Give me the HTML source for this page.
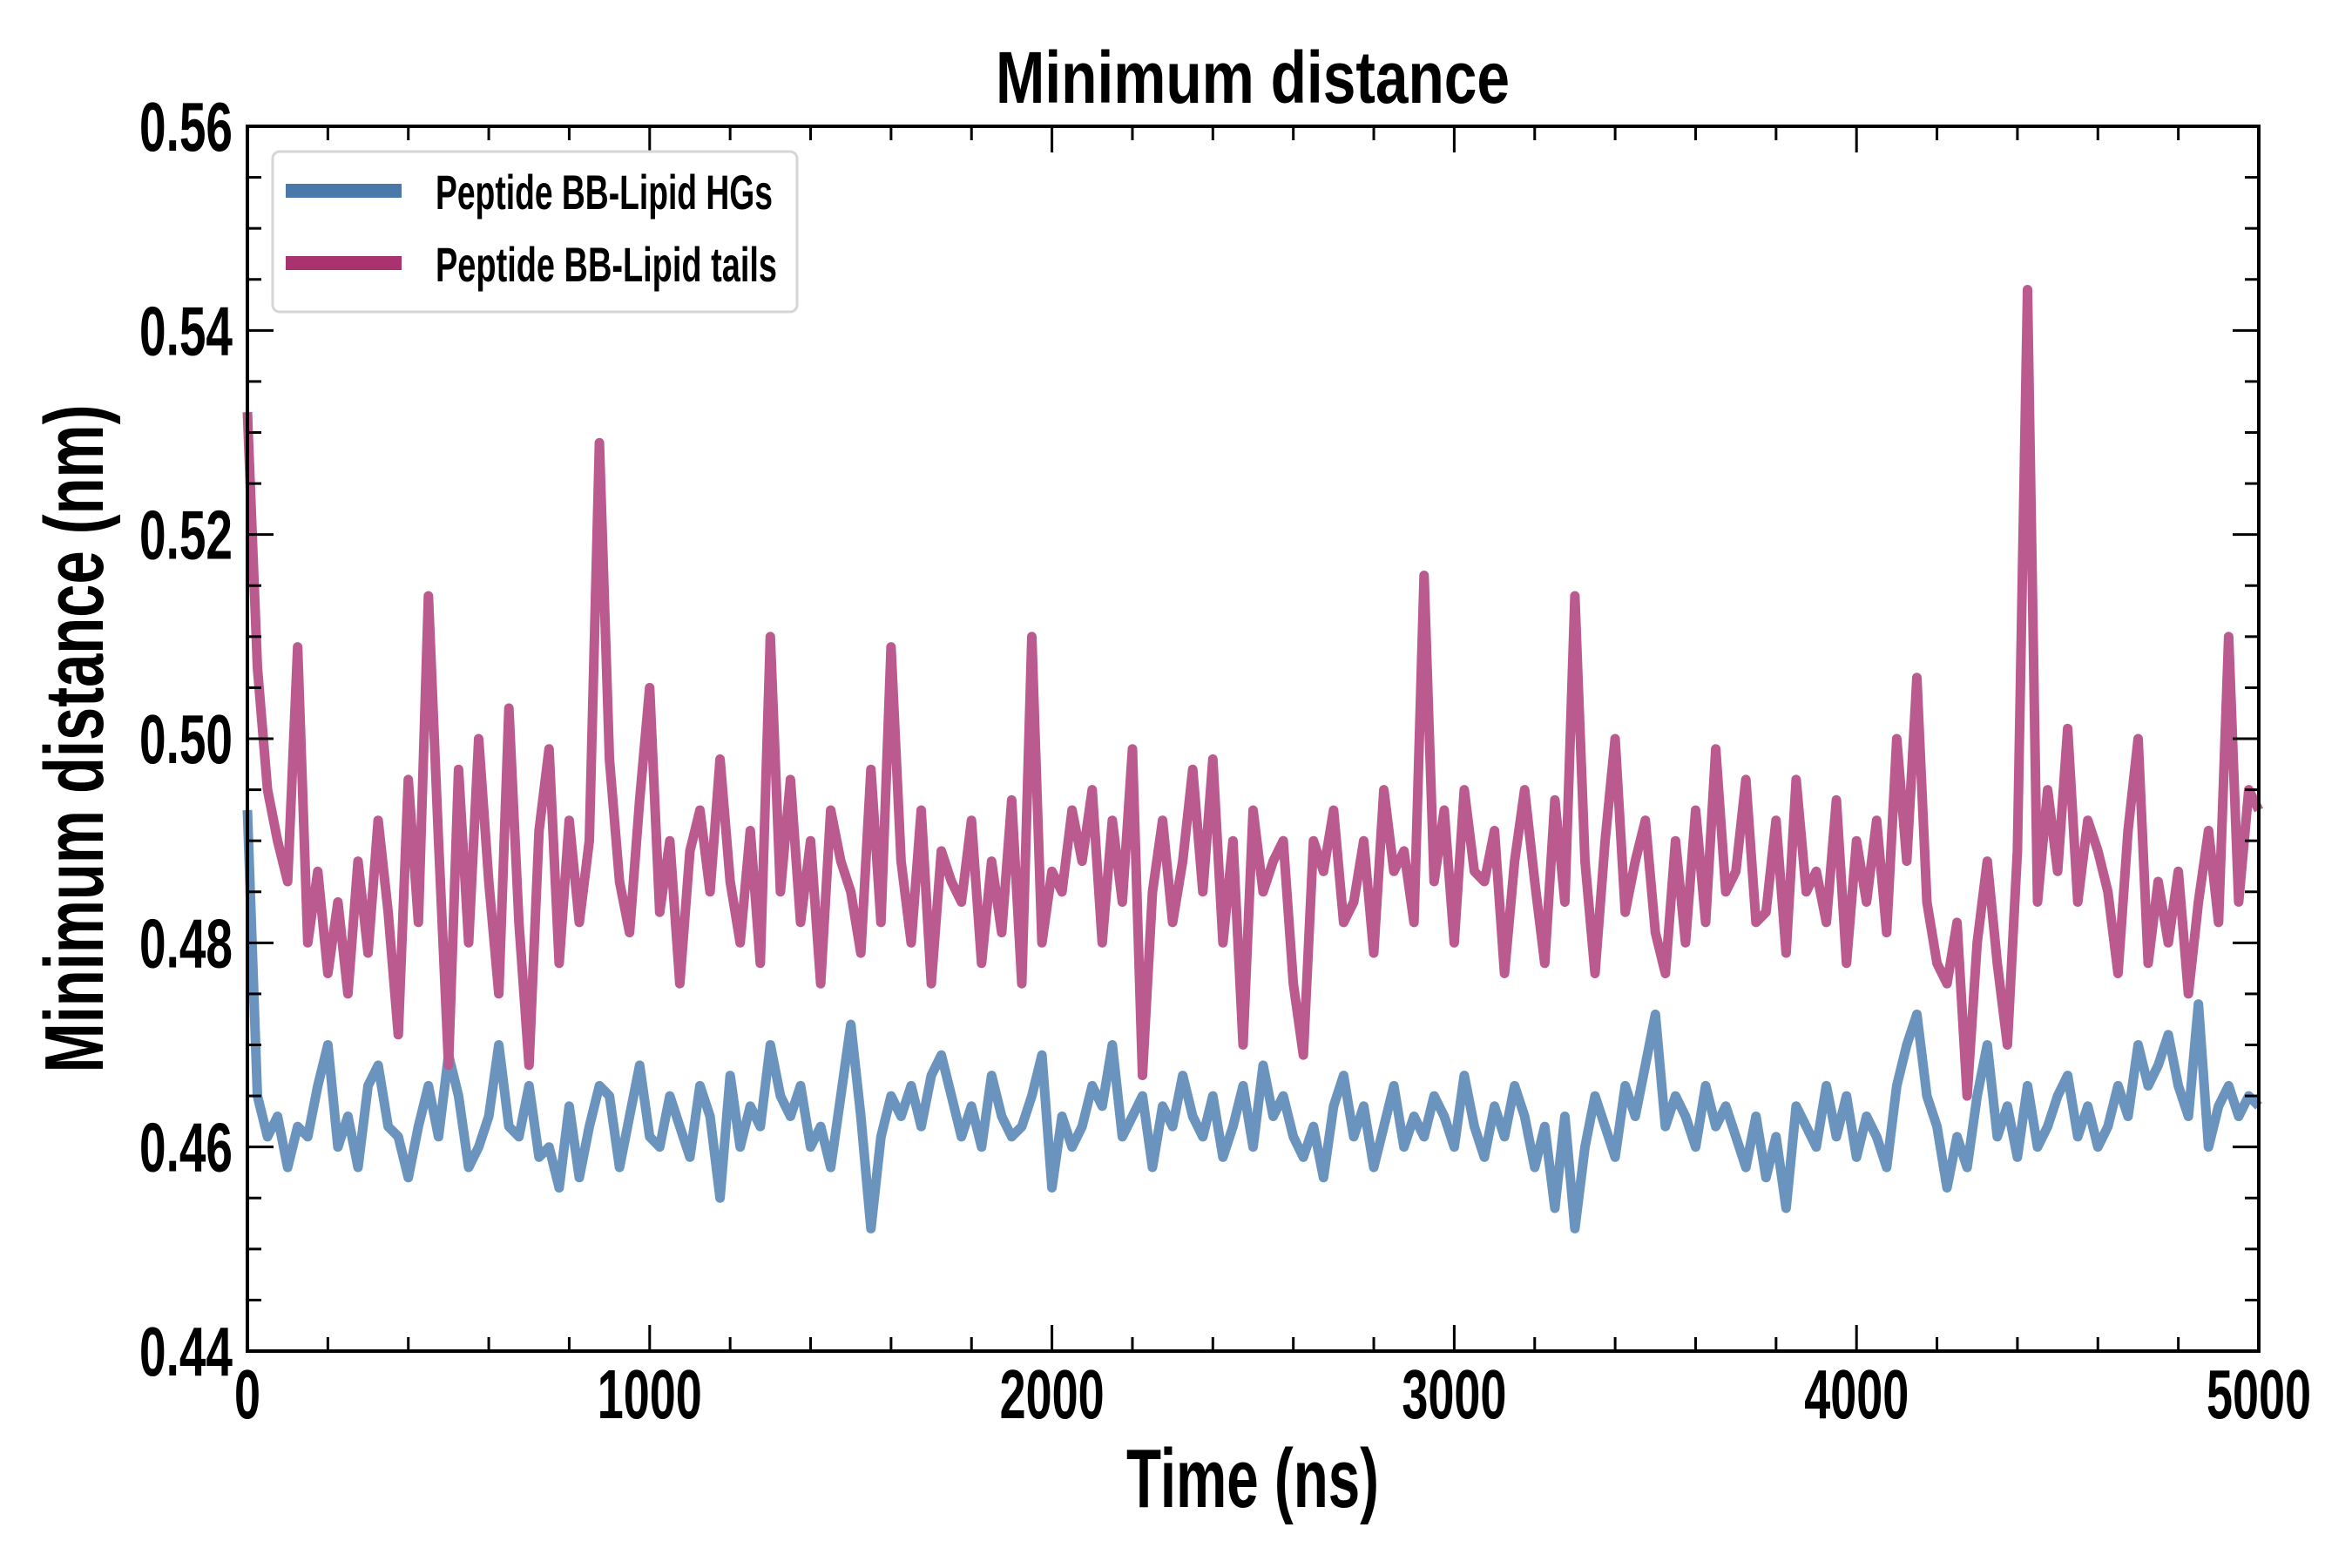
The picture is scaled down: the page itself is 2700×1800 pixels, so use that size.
<!DOCTYPE html>
<html><head><meta charset="utf-8"><style>
html,body{margin:0;padding:0;background:#fff;}
svg{display:block;font-family:"Liberation Sans Narrow","Liberation Sans",sans-serif;font-weight:bold;}
</style></head><body>
<svg id="chart" width="2700" height="1800" viewBox="0 0 2700 1800" xmlns="http://www.w3.org/2000/svg">
<rect width="2700" height="1800" fill="#fff"/>
<text x="1438" y="118" text-anchor="middle" font-size="84" textLength="590" lengthAdjust="spacingAndGlyphs">Minimum distance</text>
<g id="series"></g>
<g id="axes"></g>
<text x="1438" y="1730" text-anchor="middle" font-size="96" textLength="290" lengthAdjust="spacingAndGlyphs">Time (ns)</text>
<text transform="translate(118,848) rotate(-90)" text-anchor="middle" font-size="96" textLength="767" lengthAdjust="spacingAndGlyphs">Minimum distance (nm)</text>
<g>
<rect x="313" y="174" width="602" height="184" rx="8" fill="#fff" stroke="#d6d6d6" stroke-width="3"/>
<line x1="328" y1="219" x2="461" y2="219" stroke="#4a78aa" stroke-width="16"/>
<text x="500" y="240" font-size="56" textLength="387" lengthAdjust="spacingAndGlyphs">Peptide BB-Lipid HGs</text>
<line x1="328" y1="302" x2="461" y2="302" stroke="#a8336f" stroke-width="16"/>
<text x="500" y="323" font-size="56" textLength="392" lengthAdjust="spacingAndGlyphs">Peptide BB-Lipid tails</text>
</g>
</svg>
<script>
const timeStep = 25;
const hgsValues = [
.493,.465,.461,.463,.458,.462,.461,.466,.470,.460,
.463,.458,.466,.468,.462,.461,.457,.462,.466,.461,
.469,.465,.458,.460,.463,.470,.462,.461,.466,.459,
.460,.456,.464,.457,.462,.466,.465,.458,.463,.468,
.461,.460,.465,.462,.459,.466,.463,.455,.467,.460,
.464,.462,.470,.465,.463,.466,.460,.462,.458,.465,
.472,.463,.452,.461,.465,.463,.466,.462,.467,.469,
.465,.461,.464,.460,.467,.463,.461,.462,.465,.469,
.456,.463,.460,.462,.466,.464,.470,.461,.463,.465,
.458,.464,.462,.467,.463,.461,.465,.459,.462,.466,
.460,.468,.463,.465,.461,.459,.462,.457,.464,.467,
.461,.464,.458,.462,.466,.460,.463,.461,.465,.463,
.460,.467,.462,.459,.464,.461,.466,.463,.458,.462,
.454,.463,.452,.460,.465,.462,.459,.466,.463,.468,
.473,.462,.465,.463,.460,.466,.462,.464,.461,.458,
.463,.457,.461,.454,.464,.462,.460,.466,.461,.465,
.459,.463,.461,.458,.466,.470,.473,.465,.462,.456,
.461,.458,.465,.470,.461,.464,.459,.466,.460,.462,
.465,.467,.461,.464,.460,.462,.466,.463,.470,.466,
.468,.471,.466,.463,.474,.460,.464,.466,.463,.465,
.464];
const tailsValues = [
.532,.507,.495,.490,.486,.509,.480,.487,.477,.484,
.475,.488,.479,.492,.483,.471,.496,.482,.514,.490,
.468,.497,.480,.500,.486,.475,.503,.482,.468,.491,
.499,.478,.492,.482,.490,.529,.498,.486,.481,.494,
.505,.483,.490,.476,.489,.493,.485,.498,.486,.480,
.491,.478,.510,.485,.496,.482,.490,.476,.493,.488,
.485,.479,.497,.482,.509,.488,.480,.493,.476,.489,
.486,.484,.492,.478,.488,.481,.494,.476,.510,.480,
.487,.485,.493,.488,.495,.480,.492,.484,.499,.467,
.485,.492,.482,.488,.497,.485,.498,.480,.490,.470,
.493,.485,.488,.490,.476,.469,.490,.487,.493,.482,
.484,.490,.479,.495,.487,.489,.482,.516,.486,.493,
.480,.495,.487,.486,.491,.477,.488,.495,.486,.478,
.494,.484,.514,.488,.477,.490,.500,.483,.488,.492,
.481,.477,.490,.480,.493,.482,.499,.485,.487,.496,
.482,.483,.492,.479,.496,.485,.487,.482,.494,.478,
.490,.484,.492,.481,.500,.488,.506,.484,.478,.476,
.482,.465,.480,.488,.478,.470,.489,.544,.484,.495,
.487,.501,.484,.492,.489,.485,.477,.491,.500,.478,
.486,.480,.487,.475,.484,.491,.482,.510,.484,.495,
.493];
const xTicks = [0,1000,2000,3000,4000,5000];
const yTicks = [0.44,0.46,0.48,0.50,0.52,0.54,0.56];
const yTickLabels = ["0.44","0.46","0.48","0.50","0.52","0.54","0.56"];

const L=284,R=2593,T=145,B=1551,X0=0,X1=5000,Y0=0.44,Y1=0.56;
function sx(v){return L+(v-X0)/(X1-X0)*(R-L);}
function sy(v){return B-(v-Y0)/(Y1-Y0)*(B-T);}
const NS="http://www.w3.org/2000/svg";
function mk(tag,attrs,parent){const e=document.createElementNS(NS,tag);for(const k in attrs)e.setAttribute(k,attrs[k]);parent.appendChild(e);return e;}
const series=document.getElementById('series');
const axes=document.getElementById('axes');
function linePath(vals){return vals.map((v,i)=>(i?'L':'M')+sx(i*timeStep).toFixed(1)+' '+sy(v).toFixed(1)).join(' ');}
const p1=mk('path',{d:linePath(hgsValues),fill:'none',stroke:'#6a93bd','stroke-width':'11','stroke-linejoin':'round'},series);


const p2=mk('path',{d:linePath(tailsValues),fill:'none',stroke:'#bb5a8e','stroke-width':'11','stroke-linejoin':'round'},series);


const fr=mk('rect',{x:L,y:T,width:R-L,height:B-T,fill:'none',stroke:'#000','stroke-width':'4'},axes);


for(let v=0;v<=5000;v+=200){
  const major=v%1000===0,len=major?30:16,x=sx(v);
  mk('line',{x1:x,y1:B,x2:x,y2:B-len,stroke:'#000','stroke-width':'3'},axes);
  mk('line',{x1:x,y1:T,x2:x,y2:T+len,stroke:'#000','stroke-width':'3'},axes);
}
xTicks.forEach(v=>{
  const t=mk('text',{x:sx(v),y:1628,'text-anchor':'middle','font-size':'80',textLength:String(String(v).length*30),lengthAdjust:'spacingAndGlyphs'},axes);
  t.textContent=String(v);
  
  
});
for(let k=0;k<=24;k++){
  const v=0.44+k*0.005,major=k%4===0,len=major?30:16,y=sy(v);
  mk('line',{x1:L,y1:y,x2:L+len,y2:y,stroke:'#000','stroke-width':'3'},axes);
  mk('line',{x1:R,y1:y,x2:R-len,y2:y,stroke:'#000','stroke-width':'3'},axes);
}
yTicks.forEach((v,i)=>{
  const t=mk('text',{x:267,y:sy(v)+28,'text-anchor':'end','font-size':'80',textLength:'107',lengthAdjust:'spacingAndGlyphs'},axes);
  t.textContent=yTickLabels[i];
  
  
});
</script>
</body></html>
